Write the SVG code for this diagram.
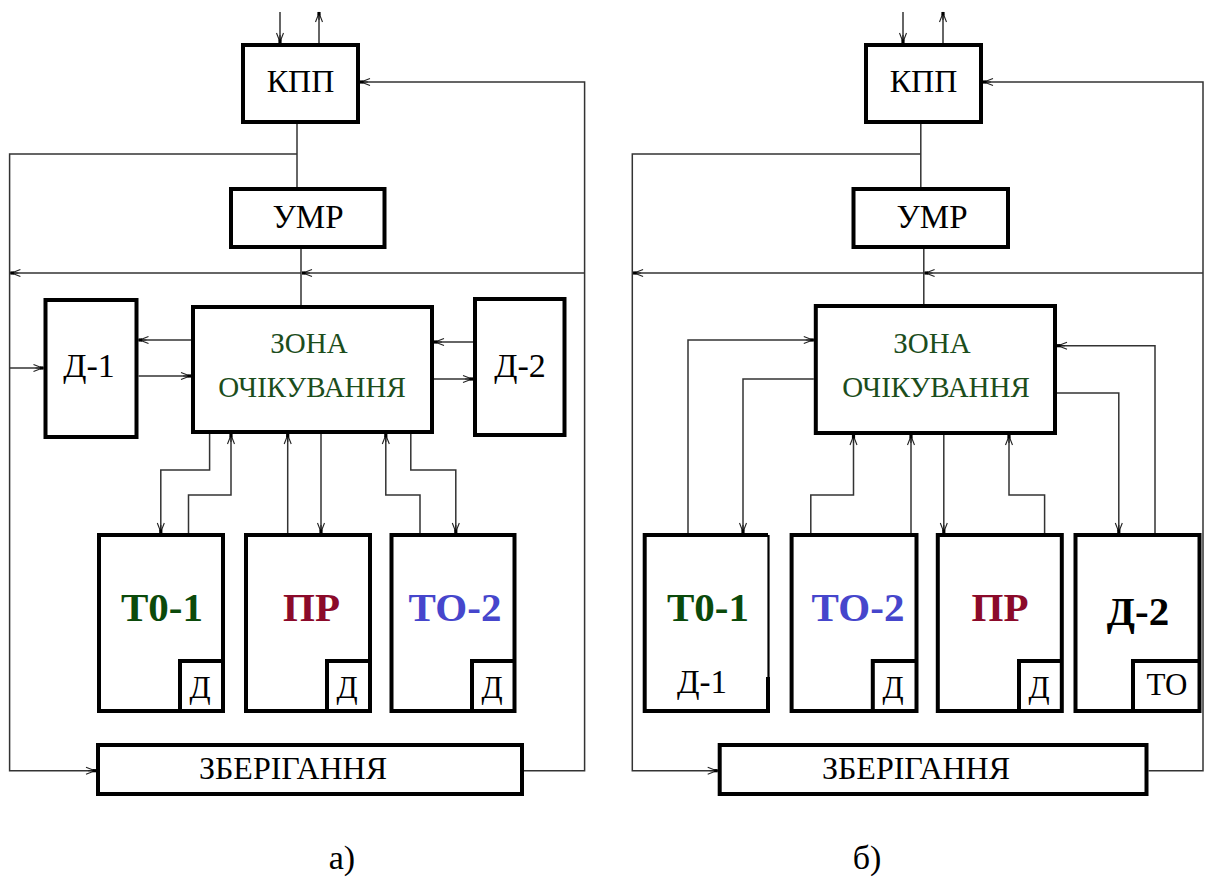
<svg xmlns="http://www.w3.org/2000/svg" width="1208" height="879" viewBox="0 0 1208 879" font-family="'Liberation Serif', 'Times New Roman', 'DejaVu Serif', serif">
<style>
.box{fill:#fff;stroke:#000;stroke-width:4}
.edge{fill:none;stroke:#000;stroke-width:4}
.ln{fill:none;stroke:#333;stroke-width:1.5}
text{font-family:'Liberation Serif','Times New Roman','DejaVu Serif',serif}
.t{text-anchor:middle;fill:#000}
.m{font-size:32px}
.z{font-size:29px;fill:#1c4d1c}
.b{font-size:41px;font-weight:bold}
.g{fill:#0b4a0b}
.r{fill:#8b0a2a}
.bl{fill:#4646cc}
.s{font-size:31px}
</style>
<defs>
<marker id="ah" viewBox="-11 -6 12 12" refX="0" refY="0" markerWidth="12" markerHeight="12" markerUnits="userSpaceOnUse" orient="auto">
<path d="M-10,-3.5 L-1,0 L-10,3.5 M-8,0 L-1,0" fill="none" stroke="#222" stroke-width="1.1"/>
<rect x="-3.5" y="-1.6" width="3.5" height="3.2" fill="#000"/>
</marker>
</defs>
<g id="connectors">
<path class="ln" d="M280,12 V43" marker-end="url(#ah)"/>
<path class="ln" d="M319,43 V12" marker-end="url(#ah)"/>
<path class="ln" d="M297,124 V187"/>
<path class="ln" d="M297,154 H9.6 V770.7 H96" marker-end="url(#ah)"/>
<path class="ln" d="M524,770.7 H584.6 V82 H360" marker-end="url(#ah)"/>
<path class="ln" d="M301,249 V305"/>
<path class="ln" d="M584.6,273 H302" marker-end="url(#ah)"/>
<path class="ln" d="M301,273 H10.4" marker-end="url(#ah)"/>
<path class="ln" d="M9.6,368 H43.5" marker-end="url(#ah)"/>
<path class="ln" d="M191,340 H138.5" marker-end="url(#ah)"/>
<path class="ln" d="M138.5,376 H191" marker-end="url(#ah)"/>
<path class="ln" d="M473,342 H434" marker-end="url(#ah)"/>
<path class="ln" d="M434,379 H473" marker-end="url(#ah)"/>
<path class="ln" d="M209.6,434 V470 H160.8 V533" marker-end="url(#ah)"/>
<path class="ln" d="M188.5,533 V495 H231 V434" marker-end="url(#ah)"/>
<path class="ln" d="M287.7,533 V434" marker-end="url(#ah)"/>
<path class="ln" d="M321,434 V533" marker-end="url(#ah)"/>
<path class="ln" d="M420,533 V495 H385.8 V434" marker-end="url(#ah)"/>
<path class="ln" d="M410.8,434 V470 H455.8 V533" marker-end="url(#ah)"/>
<path class="ln" d="M903,12 V43" marker-end="url(#ah)"/>
<path class="ln" d="M943,43 V12" marker-end="url(#ah)"/>
<path class="ln" d="M920.8,124 V187"/>
<path class="ln" d="M920.8,154 H632.3 V770.7 H717.7" marker-end="url(#ah)"/>
<path class="ln" d="M1148.5,770.7 H1203 V82 H983" marker-end="url(#ah)"/>
<path class="ln" d="M923.8,249 V304"/>
<path class="ln" d="M1203,273 H924.6" marker-end="url(#ah)"/>
<path class="ln" d="M923.8,273 H633.1" marker-end="url(#ah)"/>
<path class="ln" d="M688,533 V340 H813.8" marker-end="url(#ah)"/>
<path class="ln" d="M813.8,379 H743 V533" marker-end="url(#ah)"/>
<path class="ln" d="M1155,533 V345.7 H1057" marker-end="url(#ah)"/>
<path class="ln" d="M1057,393 H1118.8 V533" marker-end="url(#ah)"/>
<path class="ln" d="M810.8,533 V495 H853.5 V435" marker-end="url(#ah)"/>
<path class="ln" d="M911,533 V435" marker-end="url(#ah)"/>
<path class="ln" d="M943.8,435 V533" marker-end="url(#ah)"/>
<path class="ln" d="M1044.6,533 V495 H1009 V435" marker-end="url(#ah)"/>
</g>
<g id="kpp-a"><rect class="box" x="243" y="45" width="115" height="77"/><text class="t m" x="300.5" y="92">КПП</text></g>
<g id="umr-a"><rect class="box" x="231" y="189" width="153.5" height="58"/><text class="t m" x="308" y="228" style="font-size:33px">УМР</text></g>
<g id="zona-a"><rect class="box" x="193" y="307" width="239" height="125"/><text class="t z" x="309" y="353">ЗОНА</text><text class="t z" x="312" y="397">ОЧІКУВАННЯ</text></g>
<g id="d1-a"><rect class="box" x="45.5" y="300" width="91" height="137"/><text class="t" x="89" y="377" style="font-size:34px">Д-1</text></g>
<g id="d2-a"><rect class="box" x="475" y="299" width="89.5" height="136"/><text class="t" x="520" y="377" style="font-size:34px">Д-2</text></g>
<g id="to1-a"><rect class="box" x="99" y="535" width="124" height="176"/><path class="edge" d="M180,711 V661 H223"/><text class="t b g" x="162" y="621">Т0-1</text><text class="t s" x="200" y="698">Д</text></g>
<g id="pr-a"><rect class="box" x="246" y="535" width="124" height="176"/><path class="edge" d="M327,711 V661 H370"/><text class="t b r" x="311.5" y="621">ПР</text><text class="t s" x="347" y="698">Д</text></g>
<g id="to2-a"><rect class="box" x="391.5" y="535" width="123" height="176"/><path class="edge" d="M472,711 V661 H514.5"/><text class="t b bl" x="455" y="621">ТО-2</text><text class="t s" x="492" y="698">Д</text></g>
<g id="zber-a"><rect class="box" x="98" y="745" width="424" height="49"/><text class="t m" x="293" y="779">ЗБЕРІГАННЯ</text></g>
<g id="kpp-b"><rect class="box" x="866" y="45" width="115" height="77"/><text class="t m" x="923.5" y="92">КПП</text></g>
<g id="umr-b"><rect class="box" x="853.5" y="189" width="154.5" height="58"/><text class="t m" x="932" y="228" style="font-size:33px">УМР</text></g>
<g id="zona-b"><rect class="box" x="815.8" y="306" width="239.2" height="127"/><text class="t z" x="932" y="353">ЗОНА</text><text class="t z" x="936" y="397">ОЧІКУВАННЯ</text></g>
<g id="to1-b"><path class="edge" d="M768,677 V711 H644.7 V535 H768"/><path fill="none" stroke="#000" stroke-width="2.2" d="M768.5,535 V678"/><text class="t b g" x="708" y="621">Т0-1</text><text class="t" x="702" y="693" style="font-size:33px">Д-1</text></g>
<g id="to2-b"><rect class="box" x="791.6" y="535" width="124.9" height="176"/><path class="edge" d="M872.8,711 V661 H916.5"/><text class="t b bl" x="858" y="621">ТО-2</text><text class="t s" x="893" y="698">Д</text></g>
<g id="pr-b"><rect class="box" x="937.8" y="535" width="124" height="176"/><path class="edge" d="M1019,711 V661 H1061.8"/><text class="t b r" x="1000" y="621">ПР</text><text class="t s" x="1039" y="698">Д</text></g>
<g id="d2-b"><rect class="box" x="1075.5" y="535" width="124" height="176"/><path class="edge" d="M1133,711 V661 H1199.5"/><text class="t b" x="1138" y="625">Д-2</text><text class="t s" x="1167" y="695">ТО</text></g>
<g id="zber-b"><rect class="box" x="719.7" y="745" width="426.8" height="49"/><text class="t m" x="916" y="779">ЗБЕРІГАННЯ</text></g>
<g id="labels"><text class="t" x="342" y="869" style="font-size:34px">а)</text><text class="t" x="867" y="869" style="font-size:34px">б)</text></g>
</svg>
